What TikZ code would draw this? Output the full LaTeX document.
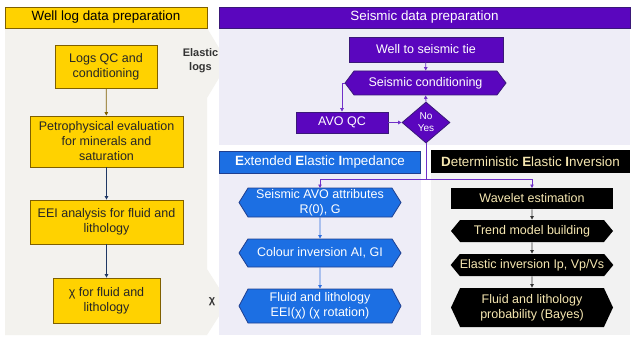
\documentclass[tikz,border=0pt]{standalone}
\usepackage{fontspec}
\setmainfont{Liberation Sans}
\usetikzlibrary{shapes.geometric,shapes.symbols,arrows.meta}
\definecolor{ylw}{HTML}{FFD200}
\definecolor{ylwb}{HTML}{7F6000}
\definecolor{pur}{HTML}{5A06BE}
\definecolor{purb}{HTML}{3A1878}
\definecolor{purl}{HTML}{7030C8}
\definecolor{blu}{HTML}{1C6FE3}
\definecolor{blub}{HTML}{1F3F8F}
\definecolor{bluarr}{HTML}{2F6FE0}
\definecolor{lav}{HTML}{EEEDF7}
\definecolor{gry}{HTML}{F3F2EE}
\definecolor{gryk}{HTML}{F2F2F2}
\definecolor{cream}{HTML}{F5E6B0}
\definecolor{navy}{HTML}{1F3864}
\tikzset{
  base/.style={font=\fontsize{12.5}{15}\selectfont, align=center, inner sep=0pt, line width=0.8pt},
  ybox/.style={base, rectangle, fill=ylw, draw=ylwb, text=black!85},
  pbox/.style={base, rectangle, fill=pur, draw=purb, text=white},
  phex/.style={base, signal, signal to=west and east, fill=pur, draw=purb, text=white},
  bhex/.style={base, signal, signal to=west and east, fill=blu, draw=blub, text=white},
  kbox/.style={base, rectangle, fill=black, text=cream},
  khex/.style={base, signal, signal to=west and east, fill=black, text=cream},
  hdr/.style={font=\fontsize{13.4}{16}\selectfont, inner sep=0pt, line width=0.8pt},
  sidelabel/.style={font=\bfseries\fontsize{11}{14}\selectfont, align=center, text=black!80, inner sep=0pt},
  arr/.style={line width=0.8pt, -{Triangle[length=3.5pt,width=3.5pt]}},
}
\begin{document}
\begin{tikzpicture}[x=1pt,y=-1pt]
\useasboundingbox (0,0) rectangle (631,339);
\fill[white] (0,0) rectangle (631,339);
% panels
\fill[gry] (5,28) -- (207,28) -- (228,63) -- (207,98) -- (207,269) -- (228,302) -- (207,335) -- (5,335) -- cycle;
\fill[lav] (219,28) rectangle (630,145);
\fill[lav] (219,173) rectangle (420.5,335);
\fill[gryk] (431,173) rectangle (630,335);
% headers
\node[hdr, fill=ylw, draw=ylwb, minimum width=202pt, minimum height=21pt] (h1) at (106,17.5) {Well log data preparation};
\node[hdr, fill=pur, draw=purb, text=white, minimum width=411pt, minimum height=21pt] (h2) at (424.5,17.5) {Seismic data preparation};
\node[hdr, fill=blu, draw=blub, text=white, minimum width=201pt, minimum height=22pt] (h3) at (320,162) {\textbf{E}xtended \textbf{E}lastic \textbf{I}mpedance};
\node[hdr, fill=black, text=cream, minimum width=199pt, minimum height=23pt] (h4) at (530.5,161.5) {\textbf{D}eterministic \textbf{E}lastic \textbf{I}nversion};
% side labels
\node[sidelabel] (lbl1) at (200.5,60.5) {Elastic\\logs};
\node[sidelabel] (lbl2) at (212,302) {χ};
% left column
\node[ybox, minimum width=102pt, minimum height=43pt] (logs) at (106,66.5) {Logs QC and\\conditioning};
\node[ybox, minimum width=153pt, minimum height=51pt] (petro) at (106.5,141.5) {Petrophysical evaluation\\for minerals and\\saturation};
\node[ybox, minimum width=153pt, minimum height=44pt] (eei) at (106.5,222) {EEI analysis for fluid and\\lithology};
\node[ybox, minimum width=107pt, minimum height=45pt] (chi) at (106.5,300.5) {χ for fluid and\\lithology};
\draw[arr, draw=ylwb] (logs) -- (petro);
\draw[arr, draw=navy] (petro) -- (eei);
\draw[arr, draw=navy] (eei) -- (chi);
% seismic
\node[pbox, minimum width=154pt, minimum height=25pt] (tie) at (426,49.5) {Well to seismic tie};
\node[phex, minimum width=161pt, minimum height=24pt, signal pointer angle=106] (cond) at (425.5,83) {Seismic conditioning};
\node[pbox, minimum width=92pt, minimum height=21pt] (avo) at (342,122.5) {AVO QC};
\node[base, diamond, fill=pur, draw=purb, minimum width=48pt, minimum height=41pt] (dia) at (426,122.5) {};
\node[font=\fontsize{10}{12}\selectfont, text=white, align=center, inner sep=0pt] (dialbl) at (dia.center) {No\\Yes};
\draw[arr, draw=purl] (tie) -- (cond);
\draw[arr, draw=purl] (dia.north) -- (cond.south);
\draw[arr, draw=purl] (cond.west) -| (avo.north);
\draw[arr, draw=purl] (avo.east) -- (dia.west);
\coordinate (j) at (426,179);
\draw[line width=0.8pt, draw=purl] (dia.south) -- (j);
\draw[arr, draw=purl] (j) -| (320,188);
\draw[arr, draw=purl] (j) -| (532,188);
% EEI
\node[bhex, minimum width=162pt, minimum height=29pt, signal pointer angle=116] (sav) at (320,202.5) {Seismic AVO attributes\\R(0), G};
\node[bhex, minimum width=162pt, minimum height=28pt, signal pointer angle=115] (col) at (320,253) {Colour inversion AI, GI};
\node[bhex, minimum width=162pt, minimum height=34pt, signal pointer angle=124] (fl) at (320,306) {Fluid and lithology\\EEI(χ) (χ rotation)};
\draw[arr, draw=bluarr] (sav) -- (col);
\draw[arr, draw=bluarr] (col) -- (fl);
% DEI
\node[kbox, minimum width=162pt, minimum height=21pt] (wav) at (532,198.5) {Wavelet estimation};
\node[khex, minimum width=162pt, minimum height=22pt, signal pointer angle=101] (trend) at (532,231) {Trend model building};
\node[khex, minimum width=162pt, minimum height=22pt, signal pointer angle=101] (elinv) at (532,265) {Elastic inversion Ip, Vp/Vs};
\node[khex, minimum width=162pt, minimum height=39pt, signal pointer angle=130] (bayes) at (532,307.5) {Fluid and lithology\\probability (Bayes)};
\draw[arr, draw=black!80] (wav) -- (trend);
\draw[arr, draw=black!80] (trend) -- (elinv);
\draw[arr, draw=black!80] (elinv) -- (bayes);
\end{tikzpicture}
\end{document}
